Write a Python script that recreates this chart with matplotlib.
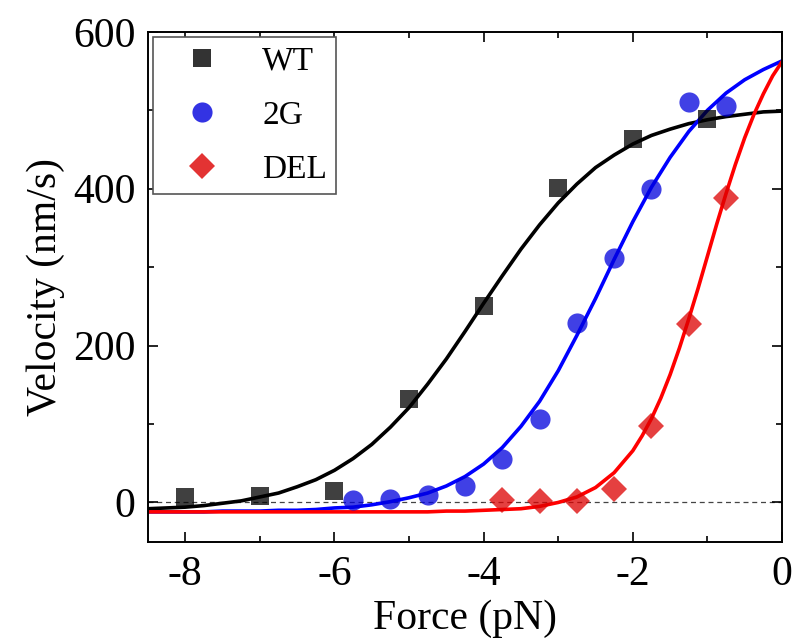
import numpy as np
import matplotlib
matplotlib.use("Agg")
import matplotlib.pyplot as plt
from matplotlib.ticker import MultipleLocator

plt.rcParams['font.family'] = ['Liberation Serif', 'DejaVu Serif']
plt.rcParams['axes.unicode_minus'] = False

######## Datos medidos ########
force_wt = [-8, -7, -6, -5, -4, -3, -2, -1]
vel_wt = [7, 8, 14, 132, 250, 401, 464, 489]

force_2g = [-5.75, -5.25, -4.75, -4.25, -3.75, -3.25, -2.75, -2.25, -1.75, -1.25, -0.75]
vel_2g = [3, 4, 9, 21, 56, 106, 229, 312, 400, 511, 505]

force_del = [-3.75, -3.25, -2.75, -2.25, -1.75, -1.25, -0.75]
vel_del = [3, 2, 2, 17, 98, 227, 388]

######## Curvas de ajuste ########
fit_force = np.arange(-8.5, 0.001, 0.25)
fit_wt = [-8, -7, -6, -4, -1, 2, 7, 12, 20, 29, 41, 56, 74, 96, 121, 151, 183, 218,
          254, 289, 323, 354, 382, 406, 427, 443, 457, 468, 476, 483, 488, 492, 495, 498, 499]
fit_2g = [-12, -12, -12, -12, -11, -11, -11, -10, -10, -9, -7, -6, -3, 1, 6, 12, 21, 33,
          49, 70, 97, 129, 168, 213, 260, 310, 358, 402, 440, 473, 500, 522, 539, 552, 563]
# DEL sube muy rapido, mas puntos en la zona empinada
fit_force_del = [-8.5, -8, -7.5, -7, -6.5, -6, -5.5, -5, -4.75, -4.5, -4.25, -4, -3.75, -3.5,
                 -3.25, -3, -2.75, -2.5, -2.25, -2, -1.875, -1.75, -1.625, -1.5, -1.375, -1.25,
                 -1.125, -1, -0.875, -0.75, -0.625, -0.5, -0.375, -0.25, -0.125, 0]
fit_del = [-12, -12, -12, -12, -12, -12, -12, -12, -12, -11, -11, -10, -9, -8,
           -5, 0, 7, 19, 38, 66, 85, 107, 133, 163, 197, 234,
           273, 314, 355, 394, 431, 465, 495, 521, 544, 562]

fig = plt.figure(figsize=(7.94, 6.38), dpi=100)
ax = fig.add_axes([0.1864, 0.151, 0.7985, 0.799])

ax.axhline(0, color='#444444', linestyle=(0, (4, 3)), linewidth=0.9, zorder=1)

ax.plot(fit_force, fit_wt, color='black', linewidth=2.6, zorder=2)
ax.plot(fit_force, fit_2g, color='#0000ff', linewidth=2.6, zorder=2)
ax.plot(fit_force_del, fit_del, color='#ff0000', linewidth=2.6, zorder=2)

h1, = ax.plot(force_wt, vel_wt, 's', color='#000000', alpha=0.75, markersize=13, markeredgewidth=0, label='WT', zorder=3)
h2, = ax.plot(force_2g, vel_2g, 'o', color='#0000dd', alpha=0.75, markersize=14.5, markeredgewidth=0, label='2G', zorder=3)
h3, = ax.plot(force_del, vel_del, 'D', color='#dd0000', alpha=0.75, markersize=13.5, markeredgewidth=0, label='DEL', zorder=3)

ax.set_xlim(-8.5, 0)
ax.set_ylim(-50, 600)
ax.xaxis.set_major_locator(MultipleLocator(2))
ax.xaxis.set_minor_locator(MultipleLocator(1))
ax.yaxis.set_major_locator(MultipleLocator(200))
ax.yaxis.set_minor_locator(MultipleLocator(100))
ax.tick_params(which='both', direction='in', top=True, right=True, width=1.2, labelsize=30)
ax.tick_params(which='major', length=7)
ax.tick_params(which='minor', length=4)
ax.tick_params(axis='x', pad=10)
ax.tick_params(axis='y', pad=9)
for s in ax.spines.values():
    s.set_linewidth(1.4)

ax.set_xlabel('Force (pN)', fontsize=30, labelpad=4)
ax.set_ylabel('Velocity (nm/s)', fontsize=30, labelpad=6)

leg = ax.legend(handles=[h1, h2, h3], loc='upper left', bbox_to_anchor=(0.0, 1.0), borderaxespad=0.15,
                fontsize=24, frameon=True, fancybox=False, edgecolor='#555555', framealpha=1,
                handlelength=2.35, handletextpad=0.64, labelspacing=0.71, borderpad=0.28)
leg.get_frame().set_linewidth(1.2)
for lh in leg.legend_handles:
    lh.set_alpha(0.8)

plt.savefig("out.png", dpi=100)
